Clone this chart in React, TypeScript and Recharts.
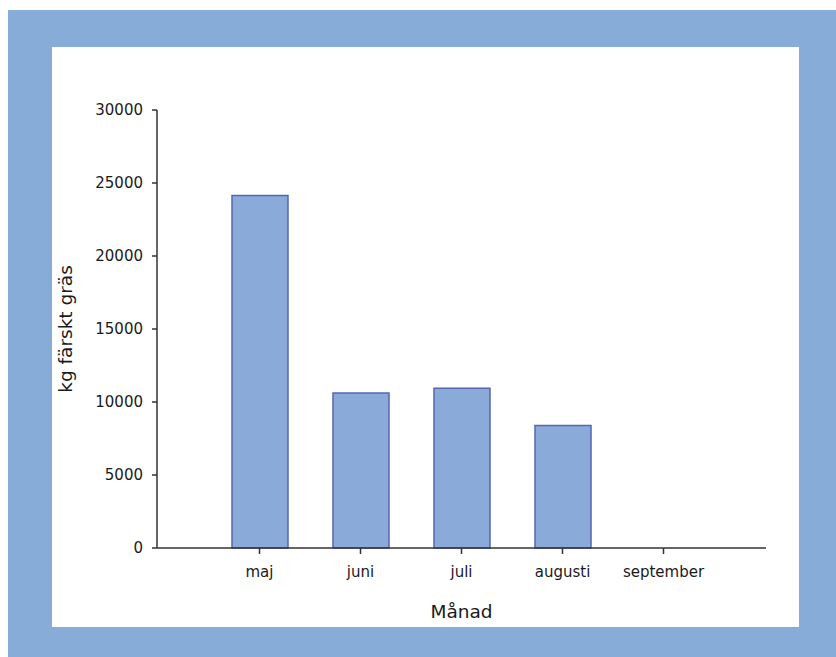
import { BarChart, Bar, XAxis, YAxis } from 'recharts';

const months = ['maj', 'juni', 'juli', 'augusti', 'september'];
const grassKg = [24150, 10620, 10940, 8390, 0];
const yTicks = [0, 5000, 10000, 15000, 20000, 25000, 30000];

const data = months.map((name, i) => ({ name, value: grassKg[i] }));

const FONT = '"DejaVu Sans", sans-serif';
const tickStyle = { fontSize: 15, fill: '#1a1a1a', fontFamily: FONT };

export default function App() {
  return (
    <div
      style={{
        position: 'absolute',
        left: 8,
        top: 10,
        width: 828,
        height: 647,
        background: '#88acd8',
      }}
    >
      <div
        style={{
          position: 'absolute',
          left: 44,
          top: 37,
          width: 747,
          height: 580,
          background: '#ffffff',
        }}
      >
        <BarChart
          width={747}
          height={580}
          data={data}
          margin={{ top: 63, right: 33, bottom: 0, left: 0 }}
        >
          <XAxis
            dataKey="name"
            height={79}
            padding={{ left: 52, right: 52 }}
            tick={tickStyle}
            tickSize={6}
            tickMargin={12}
            stroke="#333"
            strokeWidth={1.5}
            label={{
              value: 'Månad',
              position: 'insideBottom',
              offset: 9,
              fontSize: 18.5,
              fill: '#1a1a1a',
              fontFamily: FONT,
            }}
          />
          <YAxis
            width={105}
            domain={[0, 30000]}
            ticks={yTicks}
            interval={0}
            tick={tickStyle}
            tickSize={5}
            tickMargin={9}
            stroke="#333"
            strokeWidth={1.5}
            label={{
              value: 'kg färskt gräs',
              angle: -90,
              position: 'insideLeft',
              offset: 13,
              textAnchor: 'middle',
              fontSize: 18.5,
              fill: '#1a1a1a',
              fontFamily: FONT,
            }}
          />
          <Bar
            dataKey="value"
            barSize={56}
            fill="#8aabd9"
            stroke="#5565b0"
            strokeWidth={1.5}
            isAnimationActive={false}
          />
        </BarChart>
      </div>
    </div>
  );
}
